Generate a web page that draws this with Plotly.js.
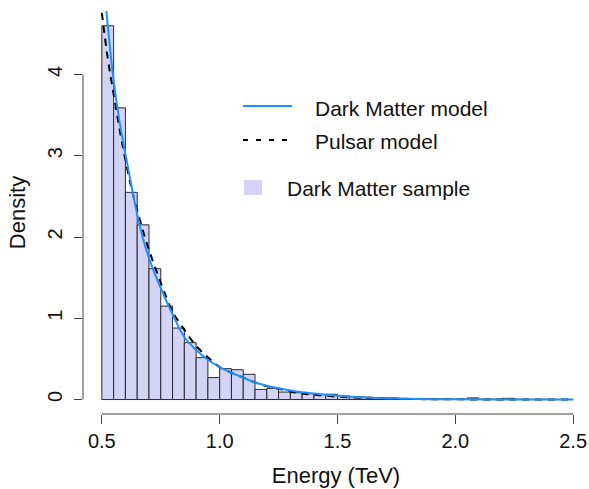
<!DOCTYPE html>
<html>
<head>
<meta charset="utf-8">
<script src="https://cdn.plot.ly/plotly-3.0.1.min.js"></script>
<style>html,body{margin:0;padding:0;background:#fff;}#chart{width:589px;height:489px;}</style>
</head>
<body>
<div id="chart"></div>
<script>
// Histogram bins (left edges, TeV) and densities
const binLeft = [0.50,0.55,0.60,0.65,0.70,0.75,0.80,0.85,0.90,0.95,
                 1.00,1.05,1.10,1.15,1.20,1.25,1.30,1.35,1.40,1.45,
                 1.50,1.55,1.60,1.65,1.70,1.75,1.80,1.85,1.90,1.95,
                 2.00,2.05,2.10,2.15,2.20,2.25,2.30,2.35,2.40,2.45];
const density = [4.60,3.59,2.55,2.15,1.61,1.15,0.88,0.70,0.515,0.27,
                 0.38,0.367,0.31,0.125,0.138,0.092,0.084,0.072,0.06,0.065,
                 0.045,0.035,0.03,0.025,0.02,0.015,0.012,0.01,0.008,0.006,
                 0.005,0.02,0.005,0.004,0.015,0.003,0.002,0.002,0.001,0.001];
const binWidth = 0.05;

// Dark Matter model curve
const dmX = [0.50,0.52,0.55,0.575,0.60,0.625,0.65,0.675,0.70,0.75,0.80,0.85,0.90,0.95,1.00,1.05,1.10,1.15,1.20,1.25,1.30,1.35,1.40,1.50,1.60,1.70,1.80,1.90,2.00,2.25,2.50];
const dmY = [5.30,4.75,3.92,3.42,3.02,2.64,2.28,1.98,1.74,1.37,1.05,0.77,0.61,0.49,0.40,0.33,0.27,0.21,0.17,0.138,0.112,0.09,0.074,0.048,0.027,0.016,0.009,0.005,0.003,0.001,0.0003];

// Pulsar model curve
const psX = [0.50,0.525,0.55,0.575,0.60,0.625,0.65,0.675,0.70,0.75,0.80,0.85,0.90,0.95,1.00,1.05,1.10,1.15,1.20,1.25,1.30,1.35,1.40,1.50,1.60,1.70,1.80,1.90,2.00,2.25,2.50];
const psY = [4.76,4.20,3.76,3.33,2.95,2.61,2.33,2.07,1.84,1.44,1.08,0.86,0.66,0.52,0.40,0.33,0.27,0.21,0.165,0.133,0.10,0.074,0.058,0.035,0.021,0.012,0.007,0.004,0.0025,0.0008,0.0003];

const xTicks = [0.5,1.0,1.5,2.0,2.5];
const xTickText = ["0.5","1.0","1.5","2.0","2.5"];
const yTicks = [0,1,2,3,4];

const legendLabels = ["Dark Matter model","Pulsar model","Dark Matter sample"];

const FILL = '#D3D3F5';
const BLUE = '#1E90FF';
const FONT = 'Liberation Sans, Arial, Helvetica, sans-serif';
const TXT = '#111';

const traces = [
  {type:'bar', x: binLeft, y: density, width: binWidth, offset: 0,
   marker:{color: FILL, line:{color:'#2a2a2a', width:1}}, showlegend:false, hoverinfo:'skip'},
  {type:'scatter', mode:'lines', x: psX, y: psY, line:{color:'#000', width:2, dash:'7px,6px', shape:'spline'}, showlegend:false},
  {type:'scatter', mode:'lines', x: dmX, y: dmY, line:{color: BLUE, width:2, shape:'spline'}, showlegend:false}
];

const L = 83, T = 11, W = 506, H = 403;
const px = v => (v - L) / W;
const py = v => (T + H - v) / H;

const layout = {
  width: 589, height: 489,
  margin: {l: L, r: 0, t: T, b: 489 - T - H},
  paper_bgcolor: '#fff', plot_bgcolor: '#fff',
  font: {family: FONT, size: 20, color: TXT},
  bargap: 0,
  showlegend: false,
  xaxis: {
    range: [0.42, 0.42 + W / 235.65],
    tickvals: xTicks, ticktext: xTickText,
    ticks: 'outside', ticklen: 9, tickwidth: 1, tickcolor: '#444',
    showline: false, showgrid: false, zeroline: false,
    tickfont: {size: 20, family: FONT, color: TXT},
    title: {text: 'Energy (TeV)', font: {size: 22, family: FONT, color: TXT}, standoff: 16}
  },
  yaxis: {
    range: [-0.178, 4.782],
    tickvals: yTicks,
    ticks: 'outside', ticklen: 8, tickwidth: 1, tickcolor: '#444',
    tickangle: -90, ticklabelstandoff: 4,
    showline: false, showgrid: false, zeroline: false,
    tickfont: {size: 20, family: FONT, color: TXT},
    title: {text: 'Density', font: {size: 22, family: FONT, color: TXT}, standoff: 12}
  },
  shapes: [
    {type:'line', xref:'x', yref:'paper', x0:0.5, x1:2.5, y0:0, y1:0, line:{color:'#444', width:1}},
    {type:'line', xref:'paper', yref:'y', x0:0, x1:0, y0:0, y1:4, line:{color:'#444', width:1}},
    {type:'line', xref:'paper', yref:'paper', x0:px(243), x1:px(292), y0:py(106), y1:py(106), line:{color:BLUE, width:2}},
    {type:'line', xref:'paper', yref:'paper', x0:px(243), x1:px(292), y0:py(140), y1:py(140), line:{color:'#000', width:2, dash:'5px,8px'}},
    {type:'rect', xref:'paper', yref:'paper', x0:px(244), x1:px(262), y0:py(195), y1:py(180), fillcolor:FILL, line:{width:0}}
  ],
  annotations: [
    {xref:'paper', yref:'paper', x:px(313), y:py(108), text:legendLabels[0], showarrow:false, xanchor:'left', yanchor:'middle', font:{size:21, family:FONT, color:TXT}},
    {xref:'paper', yref:'paper', x:px(313), y:py(141), text:legendLabels[1], showarrow:false, xanchor:'left', yanchor:'middle', font:{size:21, family:FONT, color:TXT}},
    {xref:'paper', yref:'paper', x:px(285), y:py(189), text:legendLabels[2], showarrow:false, xanchor:'left', yanchor:'middle', font:{size:21, family:FONT, color:TXT}}
  ]
};

Plotly.newPlot('chart', traces, layout, {displayModeBar: false, staticPlot: true});
</script>
</body>
</html>
